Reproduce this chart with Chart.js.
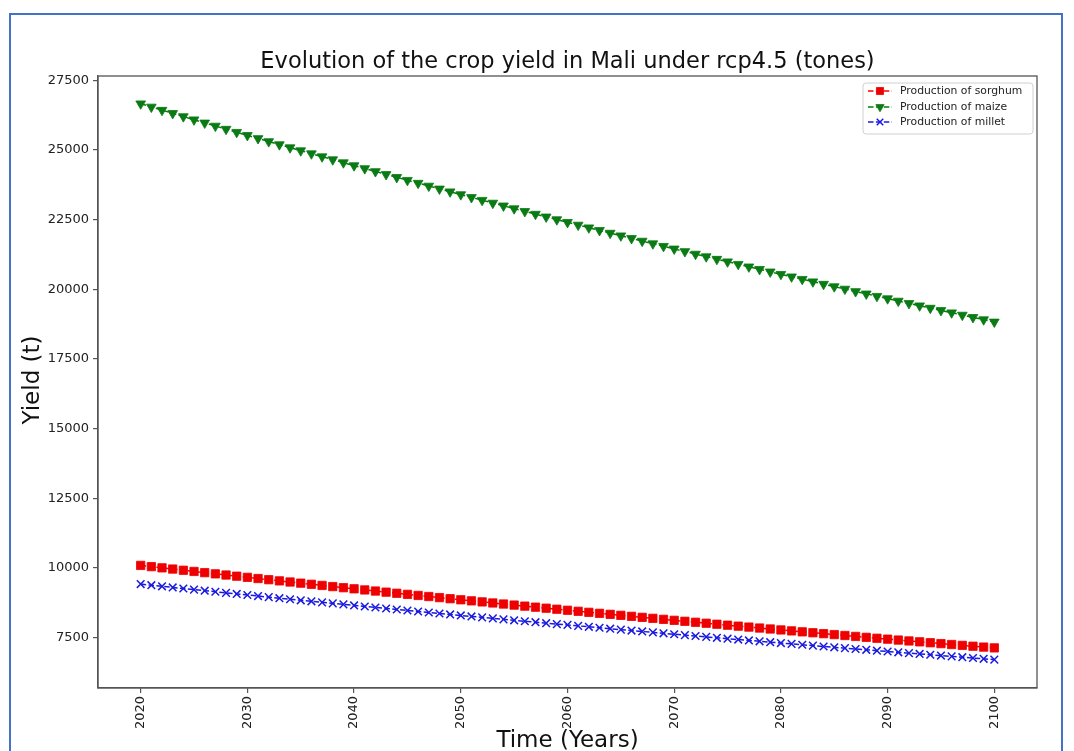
<!DOCTYPE html>
<html>
<head>
<meta charset="utf-8">
<script src="https://cdn.jsdelivr.net/npm/chart.js@4.4.0/dist/chart.umd.min.js"></script>
<style>
  html, body { margin: 0; padding: 0; background: #fff; }
  #wrap { position: relative; width: 1074px; height: 751px; overflow: hidden; }
</style>
</head>
<body>
<div id="wrap"><canvas id="c" width="1074" height="751"></canvas></div>
<script>
// Years of the projection
const years = [
  2020, 2021, 2022, 2023, 2024, 2025, 2026, 2027, 2028, 2029,
  2030, 2031, 2032, 2033, 2034, 2035, 2036, 2037, 2038, 2039,
  2040, 2041, 2042, 2043, 2044, 2045, 2046, 2047, 2048, 2049,
  2050, 2051, 2052, 2053, 2054, 2055, 2056, 2057, 2058, 2059,
  2060, 2061, 2062, 2063, 2064, 2065, 2066, 2067, 2068, 2069,
  2070, 2071, 2072, 2073, 2074, 2075, 2076, 2077, 2078, 2079,
  2080, 2081, 2082, 2083, 2084, 2085, 2086, 2087, 2088, 2089,
  2090, 2091, 2092, 2093, 2094, 2095, 2096, 2097, 2098, 2099,
  2100
];

// Production of sorghum (t)
const sorghum = [
  10090, 10046, 10002, 9959, 9916, 9873, 9830, 9787, 9745, 9703,
  9661, 9619, 9577, 9535, 9494, 9453, 9412, 9371, 9330, 9290,
  9250, 9210, 9170, 9130, 9090, 9051, 9012, 8973, 8934, 8895,
  8856, 8818, 8780, 8742, 8704, 8666, 8628, 8591, 8554, 8517,
  8480, 8443, 8406, 8370, 8334, 8298, 8262, 8226, 8190, 8154,
  8119, 8084, 8049, 8014, 7979, 7944, 7910, 7876, 7842, 7808,
  7774, 7740, 7706, 7673, 7640, 7607, 7574, 7541, 7508, 7475,
  7443, 7411, 7379, 7347, 7315, 7283, 7251, 7220, 7189, 7158,
  7130
];

// Production of maize (t)
const maize = [
  26660, 26544, 26429, 26314, 26200, 26086, 25973, 25860, 25748, 25636,
  25525, 25414, 25304, 25194, 25085, 24976, 24868, 24760, 24653, 24546,
  24440, 24334, 24228, 24123, 24018, 23914, 23810, 23707, 23604, 23502,
  23400, 23298, 23197, 23096, 22996, 22896, 22797, 22698, 22600, 22502,
  22404, 22307, 22210, 22114, 22018, 21922, 21827, 21732, 21638, 21544,
  21451, 21358, 21265, 21173, 21081, 20990, 20899, 20808, 20718, 20628,
  20539, 20450, 20361, 20273, 20185, 20097, 20010, 19923, 19837, 19751,
  19665, 19580, 19495, 19410, 19326, 19242, 19159, 19076, 18993, 18911,
  18829
];

// Production of millet (t)
const millet = [
  9420, 9380, 9340, 9300, 9261, 9222, 9183, 9144, 9105, 9066,
  9028, 8990, 8952, 8914, 8876, 8838, 8801, 8764, 8727, 8690,
  8653, 8616, 8580, 8544, 8508, 8472, 8436, 8400, 8364, 8329,
  8294, 8259, 8224, 8189, 8154, 8119, 8085, 8051, 8017, 7983,
  7955, 7920, 7886, 7852, 7818, 7785, 7752, 7719, 7686, 7653,
  7620, 7588, 7556, 7524, 7492, 7460, 7428, 7397, 7366, 7335,
  7304, 7273, 7242, 7211, 7180, 7150, 7120, 7090, 7060, 7030,
  7000, 6970, 6941, 6912, 6883, 6854, 6825, 6796, 6767, 6738,
  6709
];

// Axis tick values
const xTicks = [2020, 2030, 2040, 2050, 2060, 2070, 2080, 2090, 2100];
const yTicks = [7500, 10000, 12500, 15000, 17500, 20000, 22500, 25000, 27500];

const seriesNames = ['Production of sorghum', 'Production of maize', 'Production of millet'];

const FONT = '"DejaVu Sans", "Liberation Sans", sans-serif';
const toPoints = arr => years.map((yr, i) => ({ x: yr, y: arr[i] }));

const datasets = [
  {
    label: seriesNames[0],
    data: toPoints(sorghum),
    borderColor: '#ff0000',
    backgroundColor: '#ff0000',
    borderWidth: 1.5,
    borderDash: [5.5, 2.4],
    pointStyle: 'rect',
    pointRadius: 5.9,
    pointBorderWidth: 0.8,
    pointBorderColor: '#ee0000',
    pointBackgroundColor: '#ee0000',
    fill: false,
    tension: 0
  },
  {
    label: seriesNames[1],
    data: toPoints(maize),
    borderColor: '#008000',
    backgroundColor: '#008000',
    borderWidth: 1.5,
    borderDash: [5.5, 2.4],
    pointStyle: 'triangle',
    pointRotation: 180,
    pointRadius: 5.6,
    pointBorderWidth: 0.8,
    pointBorderColor: '#0a7a14',
    pointBackgroundColor: '#0a7a14',
    fill: false,
    tension: 0
  },
  {
    label: seriesNames[2],
    data: toPoints(millet),
    borderColor: '#1a1ae0',
    backgroundColor: '#1a1ae0',
    borderWidth: 1.5,
    borderDash: [5.5, 2.4],
    pointStyle: 'crossRot',
    pointRadius: 5.4,
    pointBorderWidth: 1.5,
    pointBorderColor: '#1a1ae0',
    pointBackgroundColor: '#1a1ae0',
    fill: false,
    tension: 0
  }
];

// Titles, frame, spines and legend box drawn around the plot
const decorations = {
  id: 'decorations',
  afterDatasetsDraw(chart) {
    const ctx = chart.ctx;
    const a = chart.chartArea;
    ctx.save();

    // spines
    ctx.strokeStyle = '#555';
    ctx.lineWidth = 1.3;
    ctx.setLineDash([]);
    ctx.strokeRect(a.left, a.top, a.right - a.left, a.bottom - a.top);

    // title
    ctx.fillStyle = '#111';
    ctx.font = '22.5px ' + FONT;
    ctx.textAlign = 'center';
    ctx.textBaseline = 'alphabetic';
    ctx.fillText('Evolution of the crop yield in Mali under rcp4.5 (tones)', (a.left + a.right) / 2, 68);

    // x axis title
    ctx.textBaseline = 'top';
    ctx.font = '23px ' + FONT;
    ctx.fillText('Time (Years)', (a.left + a.right) / 2, 730);

    // y axis title
    ctx.save();
    ctx.translate(33, 380);
    ctx.rotate(-Math.PI / 2);
    ctx.textBaseline = 'middle';
    ctx.fillText('Yield (t)', 0, 0);
    ctx.restore();

    // legend
    const bx = 863, by = 83, bw = 170, bh = 51;
    ctx.beginPath();
    if (ctx.roundRect) ctx.roundRect(bx, by, bw, bh, 3); else ctx.rect(bx, by, bw, bh);
    ctx.fillStyle = 'rgba(255,255,255,0.85)';
    ctx.fill();
    ctx.strokeStyle = '#d0d0d0';
    ctx.lineWidth = 1;
    ctx.stroke();

    const rows = [91, 107, 122];
    chart.data.datasets.forEach((ds, i) => {
      const y = rows[i];
      ctx.save();
      ctx.strokeStyle = ds.borderColor;
      ctx.lineWidth = 1.5;
      ctx.setLineDash([5.5, 2.4]);
      ctx.beginPath();
      ctx.moveTo(868, y);
      ctx.lineTo(892, y);
      ctx.stroke();
      ctx.setLineDash([]);
      ctx.fillStyle = ds.pointBackgroundColor;
      ctx.strokeStyle = ds.pointBorderColor;
      ctx.lineWidth = ds.pointBorderWidth;
      Chart.helpers.drawPoint(ctx, {
        pointStyle: ds.pointStyle,
        rotation: ds.pointRotation || 0,
        radius: ds.pointRadius * 0.85,
        borderWidth: ds.pointBorderWidth
      }, 880, y);
      ctx.restore();
      ctx.fillStyle = '#222';
      ctx.font = '10.8px ' + FONT;
      ctx.textAlign = 'left';
      ctx.textBaseline = 'middle';
      ctx.fillText(ds.label, 900, y);
    });

    // outer frame
    ctx.strokeStyle = '#4472c4';
    ctx.lineWidth = 2;
    ctx.strokeRect(10, 14, 1052, 760);

    ctx.restore();
  }
};

new Chart(document.getElementById('c'), {
  type: 'line',
  data: { datasets },
  options: {
    responsive: false,
    animation: false,
    devicePixelRatio: 1,
    layout: { padding: { left: 0, top: 76, right: 37, bottom: 0 } },
    plugins: {
      legend: { display: false },
      title: { display: false },
      tooltip: { enabled: false }
    },
    scales: {
      x: {
        type: 'linear',
        min: 2016,
        max: 2104,
        afterBuildTicks: s => { s.ticks = xTicks.map(v => ({ value: v })); },
        afterFit: s => { s.height = 63; },
        ticks: {
          minRotation: 90,
          maxRotation: 90,
          autoSkip: false,
          padding: 3,
          color: '#222',
          font: { family: FONT, size: 13 },
          callback: v => String(v)
        },
        grid: { drawOnChartArea: false, drawTicks: true, tickLength: 5, color: '#555', lineWidth: 1.2 },
        border: { display: true, color: '#555', width: 1.3 }
      },
      y: {
        type: 'linear',
        min: 5690,
        max: 27655,
        afterBuildTicks: s => { s.ticks = yTicks.map(v => ({ value: v })); },
        afterFit: s => { s.width = 98; },
        ticks: {
          autoSkip: false,
          padding: 4,
          color: '#222',
          font: { family: FONT, size: 13 },
          callback: v => String(v)
        },
        grid: { drawOnChartArea: false, drawTicks: true, tickLength: 5, color: '#555', lineWidth: 1.2 },
        border: { display: true, color: '#555', width: 1.3 }
      }
    }
  },
  plugins: [decorations]
});
</script>
</body>
</html>
